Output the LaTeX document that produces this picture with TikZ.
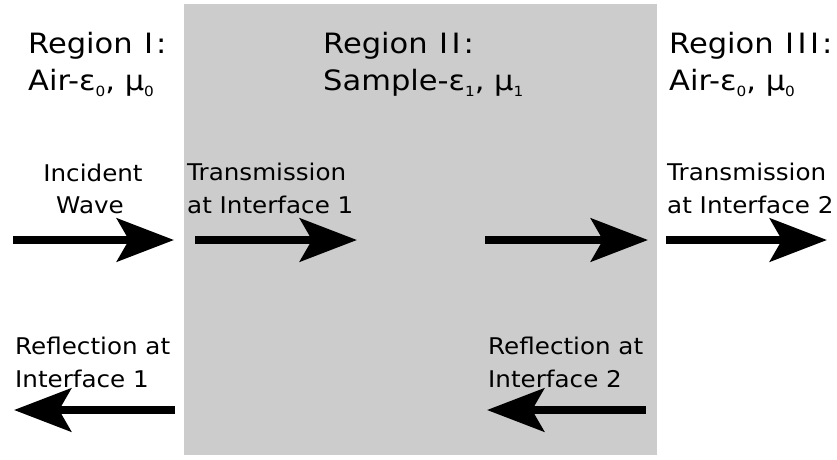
\documentclass[tikz,border=0pt]{standalone}
\usepackage{fontspec}
\usepackage{graphicx}
\setmainfont{DejaVu Sans}
\usetikzlibrary{arrows.meta}
\definecolor{samplegray}{RGB}{204,204,204}
% subscript index set below the baseline
\newcommand\lowsub[1]{\raisebox{-6pt}{\fontsize{14}{14}\selectfont #1}}
% wide-set lettering
\newcommand\widebig[1]{\scalebox{1.09}[1]{#1}}
\newcommand\widesmall[1]{\scalebox{1.07}[1]{#1}}
% roman numeral I and colon with wider side bearings
\newcommand\numI{\kern1.6pt I\kern1.6pt}
\newcommand\wcolon{\kern1.2pt:\kern1.8pt}
\tikzset{
  bigtext/.style={anchor=base west, inner sep=0pt, font=\fontsize{28}{33}\selectfont},
  smalltext/.style={anchor=base west, inner sep=0pt, font=\fontsize{23}{27}\selectfont},
  wave/.style={line width=8.5pt, -{Stealth[length=57pt,width=43pt,inset=12pt]}},
}
\begin{document}
\begin{tikzpicture}[x=1pt,y=-1pt]
\useasboundingbox (0,0) rectangle (837,459);
% sample slab
\fill[samplegray] (184,4) rectangle (657,455);

% region headings
\node[bigtext] (r1a) at (28,53) {\widebig{Region \numI\wcolon}};
\node[bigtext] (r1b) at (28,90) {\widebig{Air-ε\lowsub{0}, μ\lowsub{0}}};
\node[bigtext] (r2a) at (323,53) {\widebig{Region \numI\numI\wcolon}};
\node[bigtext] (r2b) at (323,90) {\widebig{Sample-ε\lowsub{1}, μ\lowsub{1}}};
\node[bigtext] (r3a) at (669,53) {\widebig{Region \numI\numI\numI\wcolon}};
\node[bigtext] (r3b) at (669,90) {\widebig{Air-ε\lowsub{0}, μ\lowsub{0}}};

% wave labels
\node[smalltext, anchor=base] (inca) at (93,181) {\widesmall{Incident}};
\node[smalltext, anchor=base] (incb) at (90,213) {\widesmall{Wave}};
\node[smalltext] (t1a) at (187,180) {\widesmall{Transmission}};
\node[smalltext] (t1b) at (187,213) {\widesmall{at Interface 1}};
\node[smalltext] (t2a) at (667,180) {\widesmall{Transmission}};
\node[smalltext] (t2b) at (667,213) {\widesmall{at Interface 2}};
\node[smalltext] (f1a) at (15,354) {\widesmall{Reflection at}};
\node[smalltext] (f1b) at (15,387) {\widesmall{Interface 1}};
\node[smalltext] (f2a) at (488,354) {\widesmall{Reflection at}};
\node[smalltext] (f2b) at (488,387) {\widesmall{Interface 2}};

% arrow end points
\coordinate (incS) at (13,240);  \coordinate (incE) at (174,240);
\coordinate (t1S) at (195,240);  \coordinate (t1E) at (357,240);
\coordinate (midS) at (485,240); \coordinate (midE) at (648,240);
\coordinate (t2S) at (666,240);  \coordinate (t2E) at (827,240);
\coordinate (f1S) at (175,410);  \coordinate (f1E) at (14,410);
\coordinate (f2S) at (646,410);  \coordinate (f2E) at (487,410);

\draw[wave] (incS) -- (incE);
\draw[wave] (t1S) -- (t1E);
\draw[wave] (midS) -- (midE);
\draw[wave] (t2S) -- (t2E);
\draw[wave] (f1S) -- (f1E);
\draw[wave] (f2S) -- (f2E);
\end{tikzpicture}
\end{document}
